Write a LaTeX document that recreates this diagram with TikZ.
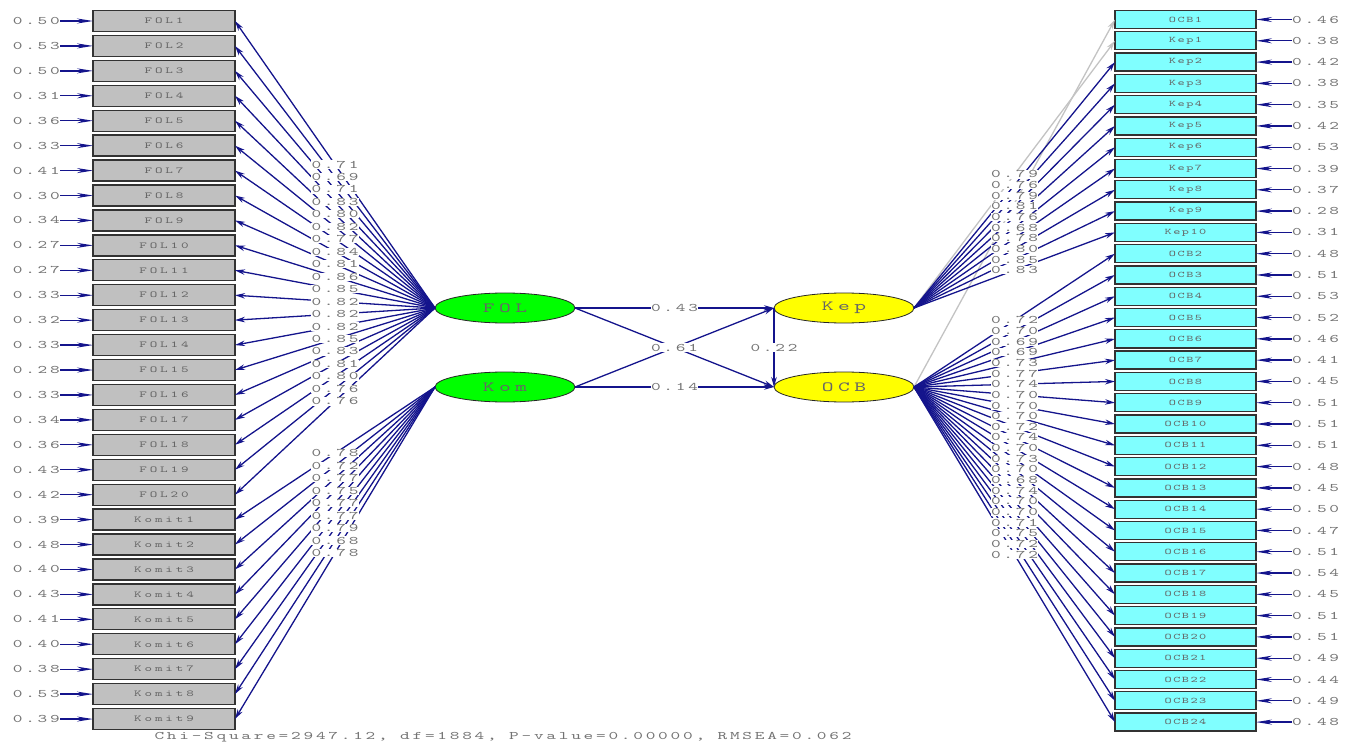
\documentclass[tikz,border=0pt]{standalone}
\usepackage{fontspec}
\setmonofont{lmmono10-regular.otf}
\usepackage{graphicx}
\usetikzlibrary{shapes.geometric,arrows.meta}
\definecolor{navy}{RGB}{20,20,140}
\definecolor{txt}{RGB}{115,115,115}
\definecolor{boxtxt}{RGB}{100,100,100}
\definecolor{boxg}{RGB}{192,192,192}
\definecolor{cyanb}{RGB}{128,255,255}
\definecolor{lgreen}{RGB}{0,255,0}
\definecolor{lyellow}{RGB}{255,255,0}
\definecolor{fixg}{RGB}{195,195,195}
\newcommand\lt[3]{\scalebox{1.6}[1]{\fontsize{#1}{#1}\ttfamily\addfontfeatures{LetterSpace=#2}#3}}
\def\leftlist{FOL1/0.50/0.71, FOL2/0.53/0.69, FOL3/0.50/0.71, FOL4/0.31/0.83, FOL5/0.36/0.80, FOL6/0.33/0.82, FOL7/0.41/0.77, FOL8/0.30/0.84, FOL9/0.34/0.81, FOL10/0.27/0.86, FOL11/0.27/0.85, FOL12/0.33/0.82, FOL13/0.32/0.82, FOL14/0.33/0.82, FOL15/0.28/0.85, FOL16/0.33/0.83, FOL17/0.34/0.81, FOL18/0.36/0.80, FOL19/0.43/0.76, FOL20/0.42/0.76, Komit1/0.39/0.78, Komit2/0.48/0.72, Komit3/0.40/0.77, Komit4/0.43/0.75, Komit5/0.41/0.77, Komit6/0.40/0.77, Komit7/0.38/0.79, Komit8/0.53/0.68, Komit9/0.39/0.78}
\def\rightlist{OCB1/0.46/0.73, Kep1/0.38/0.79, Kep2/0.42/0.76, Kep3/0.38/0.79, Kep4/0.35/0.81, Kep5/0.42/0.76, Kep6/0.53/0.68, Kep7/0.39/0.78, Kep8/0.37/0.80, Kep9/0.28/0.85, Kep10/0.31/0.83, OCB2/0.48/0.72, OCB3/0.51/0.70, OCB4/0.53/0.69, OCB5/0.52/0.69, OCB6/0.46/0.73, OCB7/0.41/0.77, OCB8/0.45/0.74, OCB9/0.51/0.70, OCB10/0.51/0.70, OCB11/0.51/0.70, OCB12/0.48/0.72, OCB13/0.45/0.74, OCB14/0.50/0.70, OCB15/0.47/0.73, OCB16/0.51/0.70, OCB17/0.54/0.68, OCB18/0.45/0.74, OCB19/0.51/0.70, OCB20/0.51/0.70, OCB21/0.49/0.71, OCB22/0.44/0.75, OCB23/0.49/0.72, OCB24/0.48/0.72}
\begin{document}
\begin{tikzpicture}[x=1pt,y=-1pt,
  obsL/.style={draw=black!80, fill=boxg, line width=1.3pt, minimum width=142pt, minimum height=21pt, inner sep=0pt, outer sep=0pt, text=boxtxt},
  obsR/.style={draw=black!80, fill=cyanb, line width=1.3pt, minimum width=141pt, minimum height=18pt, inner sep=0pt, outer sep=0pt, text=boxtxt},
  lat/.style={ellipse, draw=black!85, line width=0.8pt, minimum width=140pt, minimum height=30pt, inner sep=0pt, outer sep=0pt, text=black!60},
  loadarrow/.style={draw=navy, line width=1.3pt, -{Stealth[length=10pt,width=5.5pt]}},
  fixedarrow/.style={draw=fixg, line width=1.3pt, -{Stealth[length=10pt,width=5.5pt]}},
  errarrow/.style={draw=navy, line width=1.3pt, -{Stealth[length=16pt,width=5pt]}},
  lab/.style={fill=white, inner sep=0.5pt, text=txt},
  errtxt/.style={inner sep=0pt, text=txt}]
\useasboundingbox (0,0) rectangle (1345,746);
% latent variables
\node[lat, fill=lgreen] (FOL) at (505,308) {\lt{14}{20}{FOL}};
\node[lat, fill=lgreen] (Kom) at (505,387) {\lt{14}{20}{Kom}};
\node[lat, fill=lyellow] (Kep) at (844,308) {\lt{14}{20}{Kep}};
\node[lat, fill=lyellow] (OCB) at (844,387) {\lt{14}{20}{OCB}};
% left indicators
\foreach \n/\e/\l [count=\i] in \leftlist {
  \pgfmathsetmacro\yy{21+(\i-1)*24.93}
  \ifnum\i<21 \def\src{FOL}\else\def\src{Kom}\fi
  \node[obsL] (L\i) at (164,\yy) {\lt{9}{20}{\n}};
  \node[errtxt, anchor=east] (eL\i) at (60,\yy) {\lt{11.5}{15}{\e}};
  \draw[errarrow] (eL\i.east) -- (L\i.west);
  \draw[loadarrow] (\src.west) -- (L\i.east);
}
\foreach \n/\e/\l [count=\i] in \leftlist {
  \ifnum\i<21 \def\src{FOL}\else\def\src{Kom}\fi
  \path (\src.west) -- (L\i.east) node[midway, lab] (lL\i) {\lt{11.5}{15}{\l}};
}
% right indicators
\foreach \n/\e/\l [count=\i] in \rightlist {
  \pgfmathsetmacro\yy{19.5+(\i-1)*21.29}
  \ifnum\i=1 \def\src{OCB}\else\ifnum\i<12 \def\src{Kep}\else\def\src{OCB}\fi\fi
  \node[obsR] (R\i) at (1185.5,\yy) {\lt{8.5}{11}{\n}};
  \node[errtxt, anchor=west] (eR\i) at (1292,\yy) {\lt{11.5}{15}{\e}};
  \draw[errarrow] (eR\i.west) -- (R\i.east);
  \ifnum\i<3
    \draw[fixedarrow] (\src.east) -- (R\i.west);
  \else
    \draw[loadarrow] (\src.east) -- (R\i.west);
  \fi
}
\foreach \n/\e/\l [count=\i] in \rightlist {
  \ifnum\i=1 \def\src{OCB}\else\ifnum\i<12 \def\src{Kep}\else\def\src{OCB}\fi\fi
  \ifnum\i>1
    \path (\src.east) -- (R\i.west) node[midway, lab] (lR\i) {\lt{11.5}{15}{\l}};
  \fi
}
% structural paths
\draw[loadarrow] (FOL.east) -- (Kep.west);
\draw[loadarrow] (Kom.east) -- (OCB.west);
\draw[loadarrow] (Kom.east) -- (Kep.west);
\draw[loadarrow] (FOL.east) -- (OCB.west);
\draw[loadarrow] (Kep.west) -- (OCB.west);
\path (FOL.east) -- (Kep.west) node[midway, lab] (s1) {\lt{11.5}{15}{0.43}};
\path (Kom.east) -- (OCB.west) node[midway, lab] (s2) {\lt{11.5}{15}{0.14}};
\path (FOL.east) -- (OCB.west) node[midway, lab] (s3) {\lt{11.5}{15}{0.61}};
\path (Kep.west) -- (OCB.west) node[midway, lab] (s4) {\lt{11.5}{15}{0.22}};
% fit statistics
\node[errtxt] (fit) at (503,737) {\lt{11.5}{15}{Chi-Square=2947.12, df=1884, P-value=0.00000, RMSEA=0.062}};
\end{tikzpicture}
\end{document}
